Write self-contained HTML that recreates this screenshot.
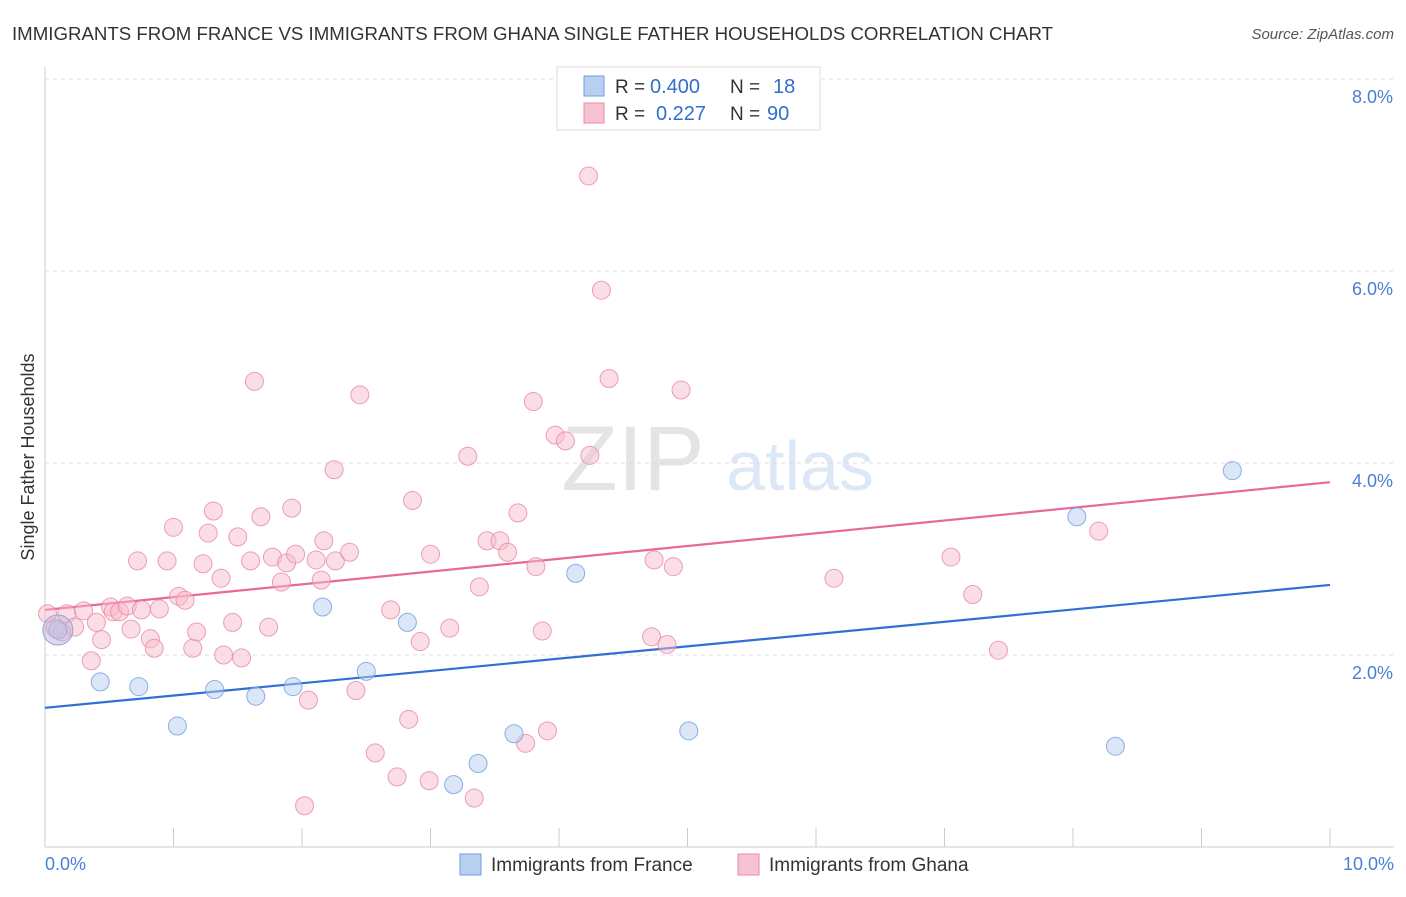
<!DOCTYPE html>
<html><head><meta charset="utf-8"><style>
body{margin:0;background:#fff;font-family:"Liberation Sans",sans-serif;}
svg text{font-family:"Liberation Sans",sans-serif;}
</style></head><body>
<svg id="chart" width="1406" height="892" viewBox="0 0 1406 892">
<text x="12" y="40" font-size="18" fill="#333" textLength="1041" lengthAdjust="spacingAndGlyphs">IMMIGRANTS FROM FRANCE VS IMMIGRANTS FROM GHANA SINGLE FATHER HOUSEHOLDS CORRELATION CHART</text>
<text x="1394" y="39" font-size="15" fill="#555" text-anchor="end" font-style="italic">Source: ZipAtlas.com</text>
<text x="633" y="490" font-size="92" fill="#e4e4e4" text-anchor="middle" font-family="Liberation Serif">ZIP</text>
<text x="800" y="490" font-size="70" fill="#dde8f6" text-anchor="middle">atlas</text>
<g id="grid"></g><g id="axes"></g><g id="lines"></g><g id="pts"></g>
<text x="34" y="457" font-size="18" fill="#333" text-anchor="middle" transform="rotate(-90 34 457)">Single Father Households</text>
<text x="45" y="870" font-size="18" fill="#4a7fd6">0.0%</text>
<text x="1394" y="870" font-size="18" fill="#4a7fd6" text-anchor="end">10.0%</text>
<g>
<rect x="557" y="67" width="263" height="63" fill="#fff" stroke="#ddd"/>
<rect x="584" y="76" width="20" height="20" fill="#b8d0f0" stroke="#6f9ee0"/>
<rect x="584" y="103" width="20" height="20" fill="#f7c3d2" stroke="#e888a5"/>
<text x="615" y="93" font-size="19" fill="#333">R =</text>
<text x="650" y="93" font-size="20" fill="#2f6fd0">0.400</text>
<text x="730" y="93" font-size="19" fill="#333">N =</text>
<text x="773" y="93" font-size="20" fill="#2f6fd0">18</text>
<text x="615" y="120" font-size="19" fill="#333">R =</text>
<text x="656" y="120" font-size="20" fill="#2f6fd0">0.227</text>
<text x="730" y="120" font-size="19" fill="#333">N =</text>
<text x="767" y="120" font-size="20" fill="#2f6fd0">90</text>
</g>
<g>
<rect x="460" y="854" width="21" height="21" fill="#b8d0f0" stroke="#6f9ee0"/>
<text x="491" y="871" font-size="19" fill="#333">Immigrants from France</text>
<rect x="738" y="854" width="21" height="21" fill="#f7c3d2" stroke="#e888a5"/>
<text x="769" y="871" font-size="19" fill="#333">Immigrants from Ghana</text>
</g>
</svg>
<script>
const yTicks=[2,4,6,8];
const yTickLabels=["2.0%","4.0%","6.0%","8.0%"];
const franceX=[0.10,0.43,0.73,1.03,1.32,1.64,1.93,2.16,2.50,2.82,3.18,3.37,3.65,4.13,5.01,8.03,8.33,9.24];
const franceY=[2.26,1.72,1.67,1.26,1.64,1.57,1.67,2.50,1.83,2.34,0.65,0.87,1.18,2.85,1.21,3.44,1.05,3.92];
const ghanaX=[0.02,0.08,0.13,0.17,0.23,0.30,0.36,0.40,0.44,0.51,0.53,0.58,0.64,0.67,0.72,0.75,0.82,0.85,0.89,0.95,1.00,1.04,1.09,1.15,1.18,1.23,1.27,1.31,1.37,1.39,1.46,1.50,1.53,1.60,1.63,1.68,1.74,1.77,1.84,1.88,1.92,1.95,2.02,2.05,2.11,2.15,2.17,2.26,2.25,2.37,2.42,2.45,2.57,2.69,2.74,2.83,2.86,2.92,2.99,3.00,3.15,3.29,3.34,3.38,3.44,3.54,3.60,3.68,3.74,3.80,3.82,3.87,3.91,3.97,4.05,4.23,4.24,4.33,4.39,4.72,4.74,4.84,4.89,4.95,6.14,7.05,7.22,7.42,8.20];
const ghanaY=[2.43,2.28,2.24,2.43,2.29,2.46,1.94,2.34,2.16,2.50,2.45,2.45,2.51,2.27,2.98,2.47,2.17,2.07,2.48,2.98,3.33,2.61,2.57,2.07,2.24,2.95,3.27,3.50,2.80,2.00,2.34,3.23,1.97,2.98,4.85,3.44,2.29,3.02,2.76,2.96,3.53,3.05,0.43,1.53,2.99,2.78,3.19,2.98,3.93,3.07,1.63,4.71,0.98,2.47,0.73,1.33,3.61,2.14,0.69,3.05,2.28,4.07,0.51,2.71,3.19,3.19,3.07,3.48,1.08,4.64,2.92,2.25,1.21,4.29,4.23,6.99,4.08,5.80,4.88,2.19,2.99,2.11,2.92,4.76,2.80,3.02,2.63,2.05,3.29];
const franceTrend=[1.45,2.73];
const ghanaTrend=[2.47,3.80];
const NS="http://www.w3.org/2000/svg";
const X=v=>45+v*128.5, Y=v=>847-v*96;
function mk(t,a,p){const e=document.createElementNS(NS,t);for(const k in a)e.setAttribute(k,a[k]);document.getElementById(p).appendChild(e);return e;}
yTicks.forEach((t,i)=>{
 const g=mk('line',{x1:45,x2:1394,y1:Y(t),y2:Y(t),stroke:'#ddd','stroke-dasharray':'4,4'},'grid');
 
 
 const l=mk('text',{x:1393,y:Y(t)+24,'font-size':18,fill:'#4a7fd6','text-anchor':'end'},'grid');
 l.textContent=yTickLabels[i];
 
 
});
const ax=mk('line',{x1:45,x2:45,y1:67,y2:847,stroke:'#ccc'},'axes');


const bx=mk('line',{x1:45,x2:1394,y1:847,y2:847,stroke:'#ccc'},'axes');


for(let k=1;k<=10;k++){const t=mk('line',{x1:X(k),x2:X(k),y1:828,y2:847,stroke:'#ccc'},'axes');
 
 }
function pts(xs,ys,fill,stroke,name){xs.forEach((x,i)=>{
 const c=mk('circle',{cx:X(x),cy:Y(ys[i]),r:9,fill:fill,'fill-opacity':0.5,stroke:stroke,'stroke-width':1,'stroke-opacity':0.8},'pts');
 
 });}
pts(ghanaX,ghanaY,'#f7bccb','#e888a5','ghana-point');
pts(franceX,franceY,'#b8d0f0','#6f9ee0','france-point');
const big=mk('circle',{cx:X(0.10),cy:Y(2.26),r:15,fill:'#c0b8dc','fill-opacity':0.5,stroke:'#8fa5dd'},'pts');


const lf=mk('line',{x1:X(0),x2:X(10),y1:Y(franceTrend[0]),y2:Y(franceTrend[1]),stroke:'#2f6fd6','stroke-width':2.2},'lines');


const lg=mk('line',{x1:X(0),x2:X(10),y1:Y(ghanaTrend[0]),y2:Y(ghanaTrend[1]),stroke:'#e8689a','stroke-width':2.2},'lines');


</script>
</body></html>
